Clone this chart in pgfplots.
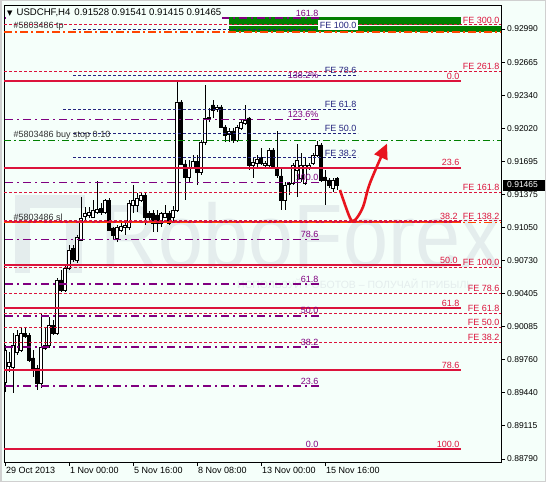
\documentclass[border=0pt]{standalone}
\usepackage{fontspec}
\setmainfont{Liberation Sans}
\newfontfamily\symfont{DejaVu Sans}
\usepackage{pgfplots}
\pgfplotsset{compat=1.18}
\usepackage{pgfplotstable}
\usetikzlibrary{arrows.meta}

\definecolor{bg}{HTML}{F5FFFA}
\definecolor{fibred}{HTML}{DC143C}
\definecolor{fibpurple}{HTML}{800080}
\definecolor{fenavy}{HTML}{24247E}
\definecolor{ordgreen}{HTML}{008000}
\definecolor{ordorange}{HTML}{FF4500}
\definecolor{arrowred}{HTML}{E8141E}
\definecolor{wmark}{HTML}{E4EDED}
\definecolor{ordtext}{HTML}{303030}
\definecolor{winframe}{HTML}{D0D0D0}

\newcommand{\lf}{\fontsize{8.5bp}{10bp}\selectfont}
\newcommand{\xf}{\fontsize{9bp}{10bp}\selectfont}
\newcommand{\tf}{\fontsize{9bp}{10bp}\selectfont}

% USDCHF H4 candles: bar index (0 = 1 Nov 00:00), open, high, low, close
\pgfplotstableread{
i o h l c
-16 0.89541 0.89903 0.89444 0.89854
-15 0.89698 0.89834 0.89639 0.89737
-14 0.89688 0.90020 0.89434 0.89903
-13 0.89834 0.90049 0.89805 0.90000
-12 0.89854 0.90079 0.89834 0.90020
-11 0.90020 0.90069 0.89971 0.89991
-10 0.90000 0.90020 0.89737 0.89756
-9 0.89776 0.89854 0.89590 0.89668
-8 0.89678 0.89707 0.89463 0.89531
-7 0.89531 0.90215 0.89483 0.89883
-6 0.89873 0.90079 0.89854 0.89903
-5 0.89903 0.90176 0.89873 0.90098
-4 0.90098 0.90147 0.90000 0.90020
-3 0.90020 0.90557 0.90000 0.90538
-2 0.90538 0.90635 0.90421 0.90440
-1 0.90440 0.90684 0.90421 0.90655
0 0.90655 0.90880 0.90635 0.90831
1 0.90850 0.90880 0.90714 0.90743
2 0.90733 0.90977 0.90704 0.90958
3 0.90929 0.91349 0.90919 0.91144
4 0.91163 0.91251 0.91124 0.91192
5 0.91173 0.91251 0.91144 0.91202
6 0.91153 0.91319 0.91144 0.91222
7 0.91202 0.91505 0.91183 0.91231
8 0.91241 0.91290 0.91173 0.91202
9 0.91202 0.91329 0.91183 0.91319
10 0.91319 0.91339 0.91017 0.91026
11 0.91046 0.91056 0.90929 0.90977
12 0.90948 0.91075 0.90909 0.91056
13 0.91026 0.91095 0.91007 0.91065
14 0.91056 0.91114 0.90977 0.91075
15 0.91056 0.91319 0.91026 0.91290
16 0.91271 0.91466 0.91192 0.91319
17 0.91271 0.91388 0.91202 0.91339
18 0.91319 0.91388 0.91300 0.91368
19 0.91368 0.91388 0.91075 0.91153
20 0.91192 0.91212 0.91095 0.91153
21 0.91192 0.91222 0.91007 0.91095
22 0.91173 0.91222 0.91007 0.91095
23 0.91095 0.91202 0.91056 0.91192
24 0.91153 0.91271 0.91144 0.91192
25 0.91192 0.91212 0.91075 0.91095
26 0.91153 0.91261 0.91095 0.91222
27 0.91222 0.92472 0.91202 0.92277
28 0.92277 0.92296 0.91661 0.91671
29 0.91671 0.91710 0.91319 0.91544
30 0.91544 0.91710 0.91495 0.91642
31 0.91642 0.91759 0.91632 0.91700
32 0.91700 0.91759 0.91466 0.91593
33 0.91593 0.91906 0.91564 0.91886
34 0.91886 0.92443 0.91857 0.92121
35 0.92121 0.92218 0.92081 0.92130
36 0.92248 0.92296 0.92121 0.92199
37 0.92208 0.92248 0.92179 0.92228
38 0.92228 0.92248 0.92023 0.92033
39 0.92033 0.92052 0.91886 0.91954
40 0.91964 0.92023 0.91886 0.91994
41 0.91994 0.92023 0.91876 0.91906
42 0.91906 0.92052 0.91886 0.92033
43 0.92023 0.92101 0.92003 0.92081
44 0.92072 0.92248 0.92052 0.92101
45 0.92121 0.92130 0.91612 0.91661
46 0.91661 0.91730 0.91534 0.91691
47 0.91681 0.91759 0.91642 0.91720
48 0.91739 0.91827 0.91661 0.91681
49 0.91661 0.91700 0.91632 0.91681
50 0.91661 0.91827 0.91642 0.91808
51 0.91808 0.91827 0.91632 0.91652
52 0.91632 0.91994 0.91534 0.91564
53 0.91554 0.91632 0.91222 0.91319
54 0.91319 0.91495 0.91222 0.91466
55 0.91476 0.91495 0.91368 0.91485
56 0.91485 0.91681 0.91466 0.91661
57 0.91612 0.91866 0.91349 0.91710
58 0.91534 0.91779 0.91495 0.91661
59 0.91485 0.91730 0.91466 0.91661
60 0.91632 0.91681 0.91612 0.91661
61 0.91681 0.91779 0.91661 0.91759
62 0.91759 0.91896 0.91739 0.91857
63 0.91857 0.91876 0.91495 0.91515
64 0.91544 0.91612 0.91271 0.91515
65 0.91515 0.91534 0.91437 0.91466
66 0.91437 0.91534 0.91398 0.91515
67 0.91528 0.91541 0.91415 0.91465
}\candles

\pgfplotsset{
  chartgeom/.style={scale only axis, width=497bp, height=457bp,
    xmin=-16.25, xmax=108, ymin=0.88760, ymax=0.93224,
    at={(4bp,20bp)}, anchor=south west},
}
\tikzset{
  retr/.style={fibpurple, line width=1.6bp, dash pattern=on 8bp off 4bp on 2bp off 4bp},
  fibmain/.style={fibred, line width=2bp},
  fibexp/.style={fibred, line width=1bp, dash pattern=on 3bp off 2bp},
  feblue/.style={fenavy, line width=1bp, dash pattern=on 3bp off 2bp},
  ordline/.style={ordorange, line width=1.6bp, dash pattern=on 8bp off 3bp on 2bp off 3bp},
  stopline/.style={ordgreen, line width=1bp, dash pattern=on 7bp off 3bp on 1.5bp off 3bp},
  lab/.style={font=\tf, inner sep=1.5bp},
  plab/.style={lab, text=fibpurple, anchor=south east},
  rlab/.style={lab, text=fibred, anchor=south east},
  felab/.style={lab, text=fibred, anchor=south east, inner xsep=0.5bp},
  blab/.style={lab, text=fenavy, anchor=south east},
  olab/.style={lab, text=ordtext, anchor=south west},
}

\begin{document}
\begin{tikzpicture}
\useasboundingbox (0,0) rectangle (546bp,482bp);
\fill[bg] (0,0) rectangle (546bp,482bp);

% broker watermark: logo, name and slogan
\fill[wmark] (15bp,209bp) rectangle (30bp,287bp);
\fill[wmark] (15bp,274bp) rectangle (85bp,287bp);
\fill[wmark] (66bp,209bp) rectangle (82bp,262bp);
\node[anchor=base west, text=wmark, font=\fontsize{90bp}{96bp}\selectfont, inner sep=0, xscale=0.9] at (100bp,214bp) {RoboForex};
\node[anchor=base west, text=wmark, font=\fontsize{10.5bp}{12bp}\selectfont, inner sep=0] at (237bp,193.5bp) {ИСПОЛЬЗУЙ РОБОТОВ – ПОЛУЧАЙ ПРИБЫЛЬ};

% candle wicks
\begin{axis}[chartgeom, hide axis]
\addplot[draw=none, mark=none, error bars/.cd, y dir=both, y explicit, error mark=none,
  error bar style={draw=black, line width=0.9bp, solid}]
  table[x=i, y=c, y error plus expr=\thisrow{h}-\thisrow{c}, y error minus expr=\thisrow{c}-\thisrow{l}] {\candles};
\end{axis}

% candle bodies
\begin{axis}[chartgeom, hide axis, ybar stacked, bar width=0.72]
\addplot[draw=none, fill=none] table[x=i, y expr={min(\thisrow{o},\thisrow{c})}] {\candles};
\addplot[fill=white, draw=black, line width=0.8bp] table[x=i, y expr={max(\thisrow{c}-\thisrow{o},0)}] {\candles};
\addplot[fill=black, draw=black, line width=0.8bp] table[x=i, y expr={max(\thisrow{o}-\thisrow{c},0)}] {\candles};
\end{axis}

% levels, orders, frame and ticks
\begin{axis}[chartgeom, clip=false,
  axis line style={black, line width=0.8bp},
  tick align=outside, major tick length=4bp,
  every tick/.style={black, line width=0.8bp},
  xtick pos=left, ytick pos=right, yticklabel pos=right,
  xtick={-16,0,16,32,48,64},
  xticklabels={29 Oct 2013, 1 Nov 00:00, 5 Nov 16:00, 8 Nov 08:00, 13 Nov 00:00, 15 Nov 16:00},
  xticklabel style={anchor=north west, font=\xf, inner xsep=1bp, inner ysep=1.5bp},
  ytick={0.88790,0.89115,0.89440,0.89760,0.90085,0.90405,0.90730,0.91050,0.91375,0.91695,0.92020,0.92340,0.92665,0.92990},
  yticklabels={0.88790,0.89115,0.89440,0.89760,0.90085,0.90405,0.90730,0.91050,0.91375,0.91695,0.92020,0.92340,0.92665,0.92990},
  yticklabel style={anchor=west, font=\lf, inner xsep=2bp},
]
% green zone
\addplot[fill=ordgreen, draw=none] coordinates {(40,0.93031) (98,0.93031) (98,0.93104) (40,0.93104)} -- cycle;
\addplot[fill=ordgreen, draw=none] coordinates {(40,0.92961) (108,0.92961) (108,0.93021) (40,0.93021)} -- cycle;

% Fibonacci expansion (full width)
\addplot[fibexp] coordinates {(-16.25,0.93029) (108,0.93029)};
\addplot[fibexp] coordinates {(-16.25,0.92577) (108,0.92577)};
\addplot[fibexp] coordinates {(-16.25,0.91394) (108,0.91394)};
\addplot[fibexp] coordinates {(-16.25,0.91115) (108,0.91115)};
\addplot[fibexp] coordinates {(-16.25,0.90663) (108,0.90663)};
\addplot[fibexp] coordinates {(-16.25,0.90410) (108,0.90410)};
\addplot[fibexp] coordinates {(-16.25,0.90211) (108,0.90211)};
\addplot[fibexp] coordinates {(-16.25,0.90072) (108,0.90072)};
\addplot[fibexp] coordinates {(-16.25,0.89932) (108,0.89932)};

% Fibonacci retracement (purple)
\addplot[retr] coordinates {(-16,0.93099) (62.75,0.93099)};
\addplot[retr] coordinates {(-16,0.92484) (62.75,0.92484)};
\addplot[retr] coordinates {(-16,0.92104) (62.75,0.92104)};
\addplot[retr] coordinates {(-16,0.91490) (62.75,0.91490)};
\addplot[retr] coordinates {(-16,0.90933) (62.75,0.90933)};
\addplot[retr] coordinates {(-16,0.90496) (62.75,0.90496)};
\addplot[retr] coordinates {(-16,0.90189) (62.75,0.90189)};
\addplot[retr] coordinates {(-16,0.89881) (62.75,0.89881)};
\addplot[retr] coordinates {(-16,0.89501) (62.75,0.89501)};
\addplot[retr] coordinates {(-16,0.88887) (62.75,0.88887)};

% Fibonacci retracement (crimson)
\addplot[fibmain] coordinates {(-16.25,0.92482) (98,0.92482)};
\addplot[fibmain] coordinates {(-16.25,0.91634) (98,0.91634)};
\addplot[fibmain] coordinates {(-16.25,0.91109) (98,0.91109)};
\addplot[fibmain] coordinates {(-16.25,0.90685) (98,0.90685)};
\addplot[fibmain] coordinates {(-16.25,0.90260) (98,0.90260)};
\addplot[fibmain] coordinates {(-16.25,0.89656) (98,0.89656)};
\addplot[fibmain] coordinates {(-16.25,0.88887) (98,0.88887)};

% Fibonacci expansion (navy)
\addplot[feblue] coordinates {(1,0.92980) (72.25,0.92980)};
\addplot[feblue] coordinates {(1,0.92540) (72.25,0.92540)};
\addplot[feblue] coordinates {(-1.5,0.92207) (72.25,0.92207)};
\addplot[feblue] coordinates {(1,0.91968) (72.25,0.91968)};
\addplot[feblue] coordinates {(1,0.91730) (72.25,0.91730)};

% pending order
\addplot[ordline] coordinates {(-16.25,0.92958) (108,0.92958)};
\addplot[stopline] coordinates {(-16.25,0.91896) (108,0.91896)};
\addplot[ordline] coordinates {(-16.25,0.91098) (108,0.91098)};

% expected path
\addplot[arrowred, line width=2.6bp, smooth, tension=0.55, -{Triangle[length=15bp, width=14bp]}]
  coordinates {(67.75,0.91417) (70.25,0.91144) (71.5,0.91124) (73.5,0.91251) (75.25,0.91485) (79.5,0.91870)};

% retracement labels
\node[plab] at (axis cs:62.75,0.93099) {161.8};
\node[plab] at (axis cs:62.75,0.92484) {138.2\%};
\node[plab] at (axis cs:62.75,0.92104) {123.6\%};
\node[plab] at (axis cs:62.75,0.91490) {100.0};
\node[plab] at (axis cs:62.75,0.90933) {78.6};
\node[plab] at (axis cs:62.75,0.90496) {61.8};
\node[plab] at (axis cs:62.75,0.90189) {50.0};
\node[plab] at (axis cs:62.75,0.89881) {38.2};
\node[plab] at (axis cs:62.75,0.89501) {23.6};
\node[plab] at (axis cs:62.75,0.88887) {0.0};

\node[rlab] at (axis cs:98,0.92482) {0.0};
\node[rlab] at (axis cs:98,0.91634) {23.6};
\node[rlab] at (axis cs:97.6,0.91109) {38.2};
\node[rlab] at (axis cs:97.6,0.90685) {50.0};
\node[rlab] at (axis cs:98,0.90260) {61.8};
\node[rlab] at (axis cs:98,0.89656) {78.6};
\node[rlab] at (axis cs:98,0.88887) {100.0};

\node[felab] at (axis cs:107.75,0.93029) {FE 300.0};
\node[felab] at (axis cs:107.75,0.92577) {FE 261.8};
\node[felab] at (axis cs:107.75,0.91394) {FE 161.8};
\node[felab] at (axis cs:107.75,0.91115) {FE 138.2};
\node[felab] at (axis cs:107.75,0.90663) {FE 100.0};
\node[felab] at (axis cs:107.75,0.90410) {FE 78.6};
\node[felab] at (axis cs:107.75,0.90211) {FE 61.8};
\node[felab] at (axis cs:107.75,0.90072) {FE 50.0};
\node[felab] at (axis cs:107.75,0.89932) {FE 38.2};

\node[blab, fill=white] at (axis cs:72.25,0.92980) {FE 100.0};
\node[blab] at (axis cs:72.25,0.92540) {FE 78.6};
\node[blab] at (axis cs:72.25,0.92207) {FE 61.8};
\node[blab] at (axis cs:72.25,0.91968) {FE 50.0};
\node[blab] at (axis cs:72.25,0.91730) {FE 38.2};

% order labels
\node[olab] at (axis cs:-14.25,0.92958) {\#5803486 tp};
\node[olab] at (axis cs:-14.25,0.91896) {\#5803486 buy stop 0.10};
\node[olab] at (axis cs:-14.25,0.91098) {\#5803486 sl};

% last price marker
\node[fill=black, anchor=west, minimum width=44bp, minimum height=11bp, inner sep=0] at (axis cs:108,0.91465) [xshift=2bp] {};
\node[font=\lf, text=white, anchor=west, inner sep=0] at (axis cs:108,0.91465) [xshift=6bp] {0.91465};
\end{axis}

% symbol and OHLC header
\node[anchor=west, fill=bg, font=\fontsize{9.6bp}{11bp}\selectfont, inner xsep=1bp, inner ysep=2bp] at (6bp,469bp)
  {{\symfont\fontsize{7bp}{8bp}\selectfont ▼}\hspace{4bp}USDCHF,H4\hspace{4bp}0.91528 0.91541 0.91415 0.91465};

% window frame
\draw[winframe, line width=1.5bp] (0.75bp,0.75bp) rectangle (545.25bp,481.25bp);
\end{tikzpicture}
\end{document}
